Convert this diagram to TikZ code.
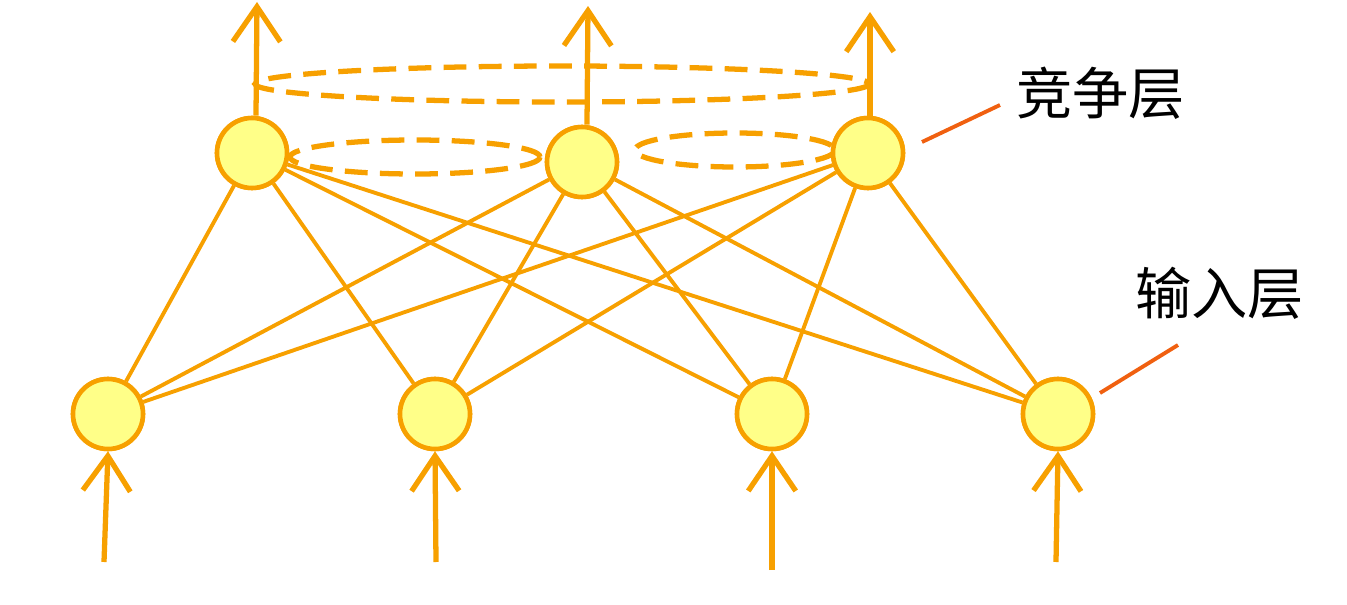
\documentclass[tikz,border=0pt]{standalone}
\usepackage{fontspec}
\newfontfamily\cjk{Noto Sans CJK SC}
\usetikzlibrary{arrows.meta}
\definecolor{org}{HTML}{F7A000}
\definecolor{nf}{HTML}{FFFF88}
\definecolor{lab}{HTML}{F06010}
\begin{document}
\begin{tikzpicture}[x=0.02cm,y=-0.02cm,
  neuron/.style={circle,draw=org,fill=nf,line width=2.6pt,minimum size=1.4cm,inner sep=0pt},
  conn/.style={org,line width=2.2pt},
  sig/.style={org,line width=3pt,-{Straight Barb[length=0.7cm,width=0.95cm,line width=3pt]}},
  ring/.style={org,line width=3pt,dash pattern=on 13pt off 7pt},
  tag/.style={lab,line width=2.2pt},
  lbl/.style={font=\cjk\fontsize{32}{36}\selectfont,inner sep=0pt}]
\useasboundingbox (0,0) rectangle (1347,605);
% dashed rings
\draw[ring] (562,84) ellipse (307 and 18);
\draw[ring] (415,157) ellipse (125 and 17);
\draw[ring] (735,150) ellipse (100 and 17);
% nodes
\node[neuron] (t1) at (252,153) {};
\node[neuron] (t2) at (582,162) {};
\node[neuron] (t3) at (868,153) {};
\node[neuron] (b1) at (108,414) {};
\node[neuron] (b2) at (435,414) {};
\node[neuron] (b3) at (772,414) {};
\node[neuron] (b4) at (1058,414) {};
\foreach \t in {t1,t2,t3}{
  \foreach \b in {b1,b2,b3,b4}{
    \draw[conn] (\t) -- (\b);
  }
}
\foreach \p in {(252,153),(582,162),(868,153),(108,414),(435,414),(772,414),(1058,414)}{
  \node[neuron] at \p {};
}
% top outputs
\coordinate (o1) at (257,2);
\coordinate (o2) at (588,6);
\coordinate (o3) at (870,12);
\draw[sig] (t1.north) ++(4,0) -- (o1);
\draw[sig] (t2.north) ++(5,0) -- (o2);
\draw[sig] (t3.north) ++(2,0) -- (o3);
% bottom inputs
\coordinate (i1) at (104,562);
\coordinate (i2) at (436,562);
\coordinate (i3) at (772,570);
\coordinate (i4) at (1056,562);
\draw[sig] (i1) -- (b1.south);
\draw[sig] (i2) -- (b2.south);
\draw[sig] (i3) -- (b3.south);
\draw[sig] (i4) -- (b4.south);
% labels
\node[lbl,anchor=west] (l1) at (1016,93) {竞争层};
\node[lbl,anchor=west] (l2) at (1135,293) {输入层};
\coordinate (a1) at (1000,105);
\coordinate (a2) at (1178,345);
\draw[tag] (922,142) -- (a1);
\draw[tag] (1100,393) -- (a2);
\end{tikzpicture}
\end{document}
